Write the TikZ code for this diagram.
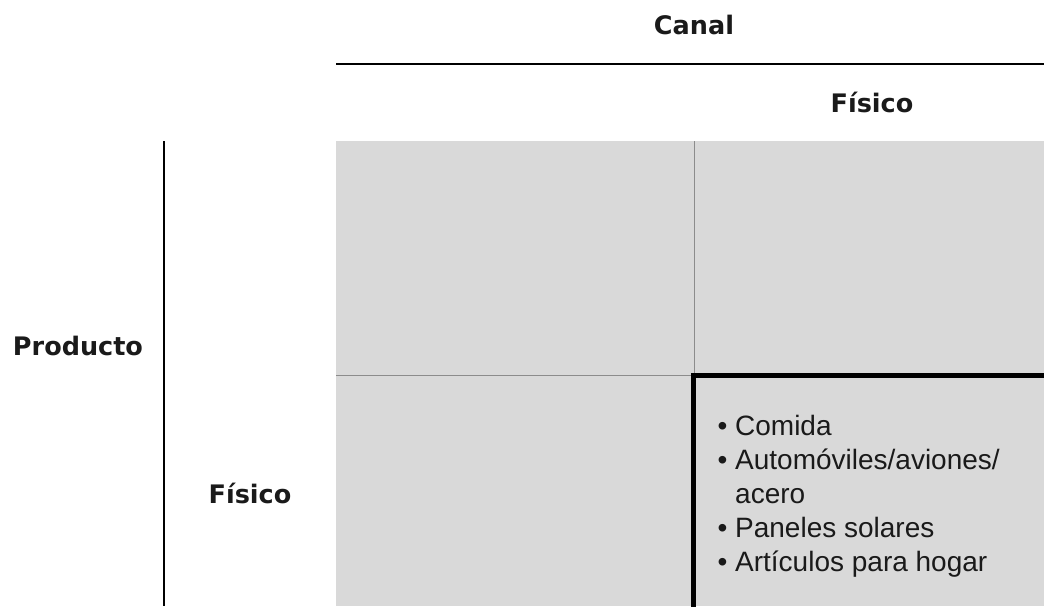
\documentclass[tikz,border=0pt]{standalone}
\usepackage{fontspec}
\setmainfont{Liberation Sans}
\newfontfamily\labfont{DejaVu Sans}
\definecolor{cellgray}{HTML}{D9D9D9}
\definecolor{divgray}{HTML}{8C8C8C}
\definecolor{inkcol}{HTML}{1A1A1A}
\begin{document}
\begin{tikzpicture}[x=1pt,y=-1pt,
  lab/.style={font=\labfont\bfseries\fontsize{25.5}{30}\selectfont, text=inkcol, inner sep=0pt, anchor=base},
  divline/.style={draw=divgray, line width=1.5pt},
  axisline/.style={draw=black, line width=2.2pt},
  hilite/.style={draw=black, line width=5pt},
  itemtext/.style={font=\fontsize{28}{34}\selectfont, text=inkcol, inner sep=0pt, anchor=base west}]
\useasboundingbox (0,0) rectangle (1044,606);
\clip (0,0) rectangle (1044,606);
% cells
\fill[cellgray] (336,141) rectangle (1044,606);
\draw[divline] (694.5,141) -- (694.5,376);
\draw[divline] (336,375.5) -- (694,375.5);
\draw[hilite] (693,375.5) rectangle (1070,630);
% axes
\draw[axisline] (336,64) -- (1044,64);
\draw[axisline] (164,141) -- (164,606);
% labels
\node[lab] (canal) at (694,34) {Canal};
\node[lab] (fisicotop) at (872,112) {Físico};
\node[lab] (producto) at (78,355) {Producto};
\node[lab] (fisicoleft) at (250,503) {Físico};
\node[itemtext] (items) at (717.4,435) {\vtop{\baselineskip=34pt
  \hbox{•\ Comida}
  \hbox{•\ Automóviles/aviones/}
  \hbox{\phantom{•\ }acero}
  \hbox{•\ Paneles solares}
  \hbox{•\ Artículos para hogar}}};
\end{tikzpicture}
\end{document}
